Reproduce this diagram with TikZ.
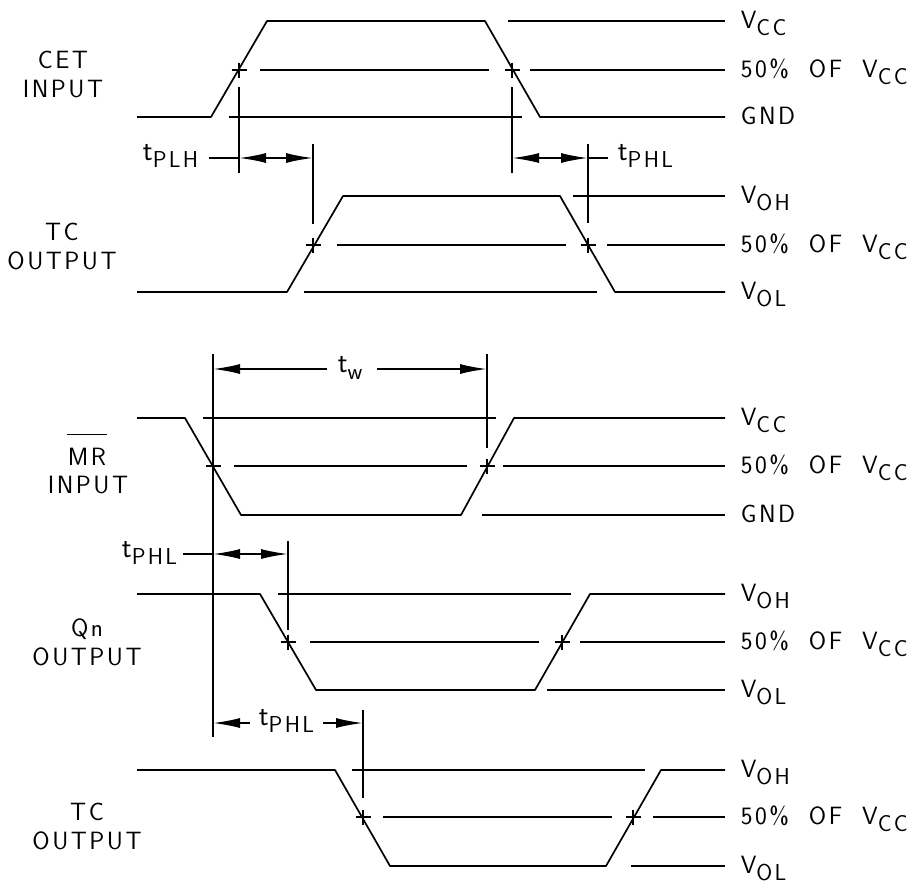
\documentclass[tikz,border=0pt]{standalone}
\usepackage{fontspec}
\setsansfont{Latin Modern Sans}[LetterSpace=10]
\usetikzlibrary{arrows.meta}
\newcommand{\lo}[1]{\raisebox{-0.28em}{\fontsize{23}{23}\selectfont #1}}
\newcommand{\tm}{{\fontsize{29}{29}\selectfont t}}
\newcommand{\crs}[1]{\draw (#1) +(-7.5,0) -- +(7.5,0) (#1) +(0,-7.5) -- +(0,7.5);}
\tikzset{
  lbl/.style={anchor=base west,inner sep=0pt},
  sig/.style={align=center,inner sep=0pt},
}
\begin{document}
\begin{tikzpicture}[x=1pt,y=-1pt,line width=1.7pt,line join=round,
  font=\fontsize{25}{29}\selectfont\sffamily,>={Latex[length=27pt,width=10pt]}]
    \useasboundingbox (0,0) rectangle (916,884);
    % CET input
    \draw (137,117) -- (211,117) -- (267,21) -- (485,21) -- (540,117) -- (725,117);
    \draw (508,21) -- (725,21);
    \draw (260,70) -- (489,70) (530,70) -- (725,70);
    \draw (229,117) -- (522,117);
    \crs{239,70} \crs{512,70}
    % TC output
    \draw (137,292) -- (287,292) -- (343,196) -- (560,196) -- (615,292) -- (725,292);
    \draw (573,196) -- (725,196);
    \draw (337,245) -- (566,245) (607,245) -- (725,245);
    \draw (304,292) -- (597,292);
    \crs{313,245} \crs{588,245}
    % tPLH, tPHL
    \coordinate (a1) at (239,158);
    \coordinate (a2) at (313,158);
    \coordinate (b1) at (512,158);
    \coordinate (b2) at (588,158);
    \draw (239,87) -- (239,173);
    \draw (313,144) -- (313,224);
    \draw (512,87) -- (512,173);
    \draw (588,144) -- (588,223);
    \draw[<->] (a1) -- (a2);
    \draw (209,158) -- (a1);
    \draw[<->] (b1) -- (b2);
    \draw (b2) -- (608,158);
    \node[anchor=base east,inner sep=0pt] (tplh) at (199,160) {\tm\lo{PLH}};
    \node[lbl] (tphla) at (617,160) {\tm\lo{PHL}};
    % MR input
    \draw (137,418) -- (185,418) -- (241,515) -- (461,515) -- (514,418) -- (725,418);
    \draw (203,418) -- (496,418);
    \draw (234,466) -- (467,466) (503,466) -- (725,466);
    \draw (482,515) -- (725,515);
    \crs{213,466} \crs{487,466}
    % tw
    \coordinate (w1) at (213,369);
    \coordinate (w2) at (487,369);
    \draw (213,354) -- (213,737);
    \draw (487,354) -- (487,448);
    \node[lbl] (tw) at (337,372) {\tm\lo{w}};
    \draw[->] (327,369) -- (w1);
    \draw[->] (377,369) -- (w2);
    % Qn output
    \draw (137,594) -- (260,594) -- (316,690) -- (535,690) -- (590,594) -- (725,594);
    \draw (278,594) -- (571,594);
    \draw (310,642) -- (539,642) (580,642) -- (725,642);
    \draw (547,690) -- (725,690);
    \crs{288,642} \crs{562,642}
    \coordinate (c1) at (213,554);
    \coordinate (c2) at (288,554);
    \draw (288,541) -- (288,630);
    \draw[<->] (c1) -- (c2);
    \draw (183,554) -- (c1);
    \node[anchor=base east,inner sep=0pt] (tphlb) at (178,557) {\tm\lo{PHL}};
    % TC output
    \draw (137,770) -- (335,770) -- (390,866) -- (606,866) -- (661,770) -- (725,770);
    \draw (352,770) -- (645,770);
    \draw (383,817) -- (612,817) (653,817) -- (725,817);
    \draw (631,866) -- (725,866);
    \crs{363,817} \crs{633,817}
    \coordinate (d1) at (213,723);
    \coordinate (d2) at (363,723);
    \draw (363,710) -- (363,798);
    \node[lbl] (tphlc) at (258,725) {\tm\lo{PHL}};
    \draw[->] (250,723) -- (d1);
    \draw[->] (323,723) -- (d2);
    % levels
    \foreach \y/\txt in {21/{V\lo{CC}},117/GND,196/{V\lo{OH}},292/{V\lo{OL}},
        418/{V\lo{CC}},515/GND,594/{V\lo{OH}},690/{V\lo{OL}},770/{V\lo{OH}},866/{V\lo{OL}}}
      \node[lbl] (r\y) at (740,\y+7) {\txt};
    \foreach \y in {70,245,466,642,817}
      \node[lbl] (h\y) at (740,\y+7) {50\%\hspace{0.8em}OF\hspace{0.8em}V\lo{CC}};
    % signal names
    \node[sig] (cet) at (63,75) {CET\\INPUT};
    \node[sig] (tca) at (62,247) {TC\\OUTPUT};
    \node[sig] (mr) at (87,457) {MR};
    \draw ([yshift=13pt]mr.north west) -- ([yshift=13pt]mr.north east);
    \node[sig] (mrin) at (88,485) {INPUT};
    \node[sig] (qn) at (87,642) {Qn\\OUTPUT};
    \node[sig] (tcb) at (87,827) {TC\\OUTPUT};
\end{tikzpicture}
\end{document}
